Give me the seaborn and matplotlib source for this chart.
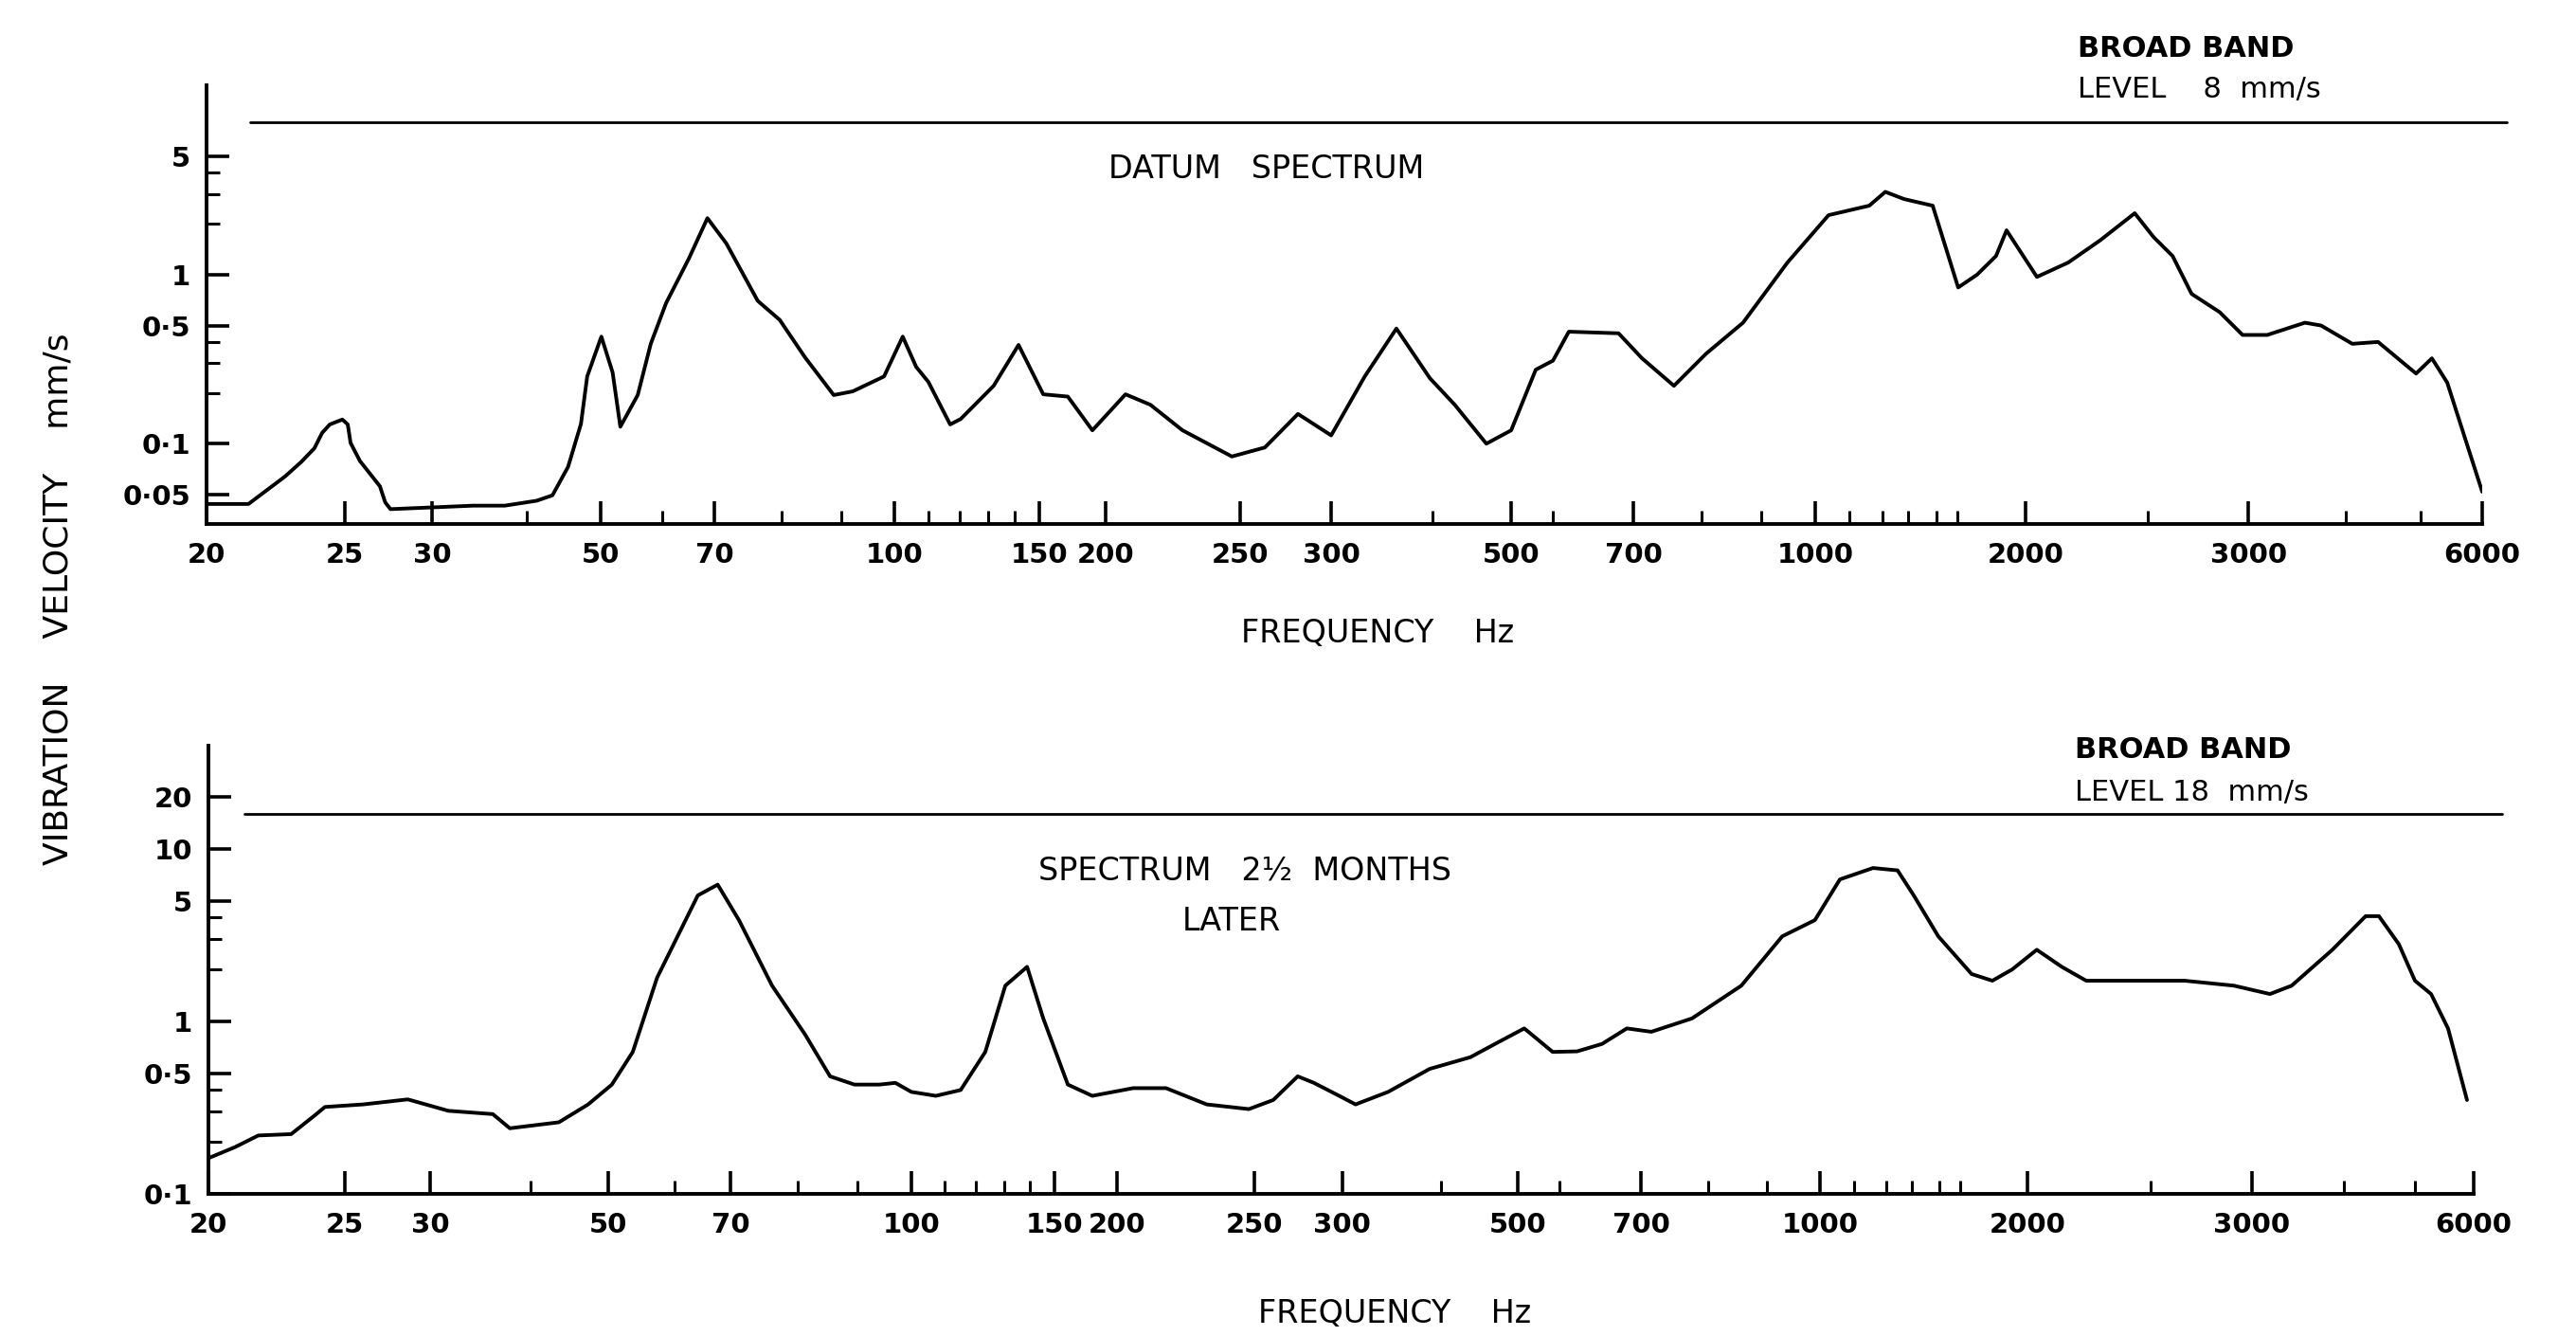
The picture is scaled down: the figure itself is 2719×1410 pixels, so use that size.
import numpy as np
import pandas as pd
import matplotlib
matplotlib.use("Agg")
import matplotlib.pyplot as plt
import seaborn as sns
from matplotlib.ticker import FixedLocator, FixedFormatter, NullFormatter

sns.set_style("white")
plt.rcParams["font.family"] = ["DejaVu Sans"]
plt.rcParams["text.color"] = "black"
plt.rcParams["xtick.color"] = "black"
plt.rcParams["ytick.color"] = "black"

# ---------------- data ----------------
TICK_HZ = [20, 25, 30, 50, 70, 100, 150, 200, 250, 300, 500, 700, 1000, 2000, 3000, 6000]
TICK_LABELS = ["20", "25", "30", "50", "70", "100", "150", "200", "250", "300",
               "500", "700", "1000", "2000", "3000", "6000"]
MINOR_HZ = [40, 60, 80, 90, 110, 120, 130, 140, 400, 560, 800, 900,
            1120, 1250, 1360, 1490, 1600, 2500, 4000, 5000]

# the analyser chart's (non-logarithmic) frequency scale, as fraction of axis length
SCALE_TOP = [0, .0608, .0991, .1732, .2231, .3022, .366, .3951, .4542, .4942,
             .5733, .627, .7069, .7993, .8972, 1.0]
SCALE_BOT = [0, .0602, .0979, .1765, .2304, .3103, .3735, .4011, .4617, .5006,
             .578, .6324, .7114, .803, .9021, 1.0]

TOP_Y_TICKS = [0.05, 0.1, 0.5, 1, 5]
TOP_Y_LABELS = ["0·05", "0·1", "0·5", "1", "5"]
BOT_Y_TICKS = [0.1, 0.5, 1, 5, 10, 20]
BOT_Y_LABELS = ["0·1", "0·5", "1", "5", "10", "20"]
Y_MINOR = [0.2, 0.3, 0.4, 2, 3, 4]

BROADBAND_DATUM = 8
BROADBAND_LATER = 16

DATUM_HZ = [20, 21.4, 22.7, 23.3, 23.8, 24.1, 24.4, 24.9, 25.15, 25.3, 25.8, 26.9, 27.2,
            27.5, 34.0, 37.4, 41.2, 43.2, 45.3,
            47.1, 48.0, 50.1, 51.8, 53.0, 55.8, 58.0, 60.7, 64.9, 68.6, 71.7, 76.3,
            79.7, 83.8, 88.7, 92.1, 98.0, 102.4, 106.3, 110, 116.9, 120.4, 132, 141.5,
            152.5, 169.7, 188.8, 206.7, 215.4, 227.2, 246.6, 262.7, 280.7, 300, 330,
            361, 397, 426, 466, 500, 535, 561, 586, 672, 712, 758, 807, 868, 947,
            1045, 1195, 1260, 1341, 1473, 1602, 1705, 1815, 1879, 2042, 2162, 2292,
            2440, 2525, 2614, 2706, 2848, 2969, 3174, 3549, 3723, 4083, 4407, 4932,
            5169, 5409, 5673, 6000]
DATUM_MMS = [0.044, 0.044, 0.064, 0.078, 0.094, 0.116, 0.13, 0.139, 0.13, 0.101, 0.079,
             0.056, 0.045, 0.041, 0.043, 0.043, 0.046,
             0.0495, 0.073, 0.131, 0.25, 0.43, 0.264, 0.126, 0.194, 0.39, 0.68, 1.24,
             2.16, 1.53, 0.70, 0.54, 0.324, 0.194, 0.204, 0.25, 0.43, 0.285, 0.232,
             0.13, 0.14, 0.22, 0.384, 0.196, 0.19, 0.12, 0.196, 0.17, 0.12, 0.084,
             0.095, 0.15, 0.112, 0.25, 0.48, 0.244, 0.17, 0.10, 0.12, 0.274, 0.31,
             0.46, 0.45, 0.32, 0.22, 0.34, 0.52, 1.18, 2.25, 2.56, 3.09, 2.8, 2.56,
             0.84, 1.0, 1.29, 1.83, 0.97, 1.18, 1.6, 2.31, 1.67, 1.29, 0.77, 0.60,
             0.44, 0.44, 0.52, 0.50, 0.39, 0.40, 0.26, 0.32, 0.23, 0.116, 0.052]

LATER_HZ = [20, 20.9, 21.7, 22.9, 23.8, 24.2, 26.0, 28.6, 31.6, 35.9, 37.7, 43.4, 47.2,
            50.5, 53.5, 57.2, 64.0, 67.6, 71.2, 76.0, 81.1, 85.2, 89.4, 93.9, 96.9,
            100, 107.2, 115, 123.3, 130.5, 138.8, 145.3, 159.5, 178.5, 205.3, 216.6,
            231.4, 247.8, 260, 273.5, 282.8, 298, 311.7, 342.7, 386.8, 435.7, 468,
            509, 550, 588, 629.5, 673.5, 714.6, 775, 855, 927.6, 990, 1069, 1194,
            1296, 1368, 1485, 1660, 1779, 1901, 2034, 2128, 2224, 2430, 2657, 2904,
            3174, 3397, 3858, 4280, 4462, 4749, 4994, 5252, 5538, 5876]
LATER_MMS = [0.161, 0.187, 0.218, 0.222, 0.285, 0.319, 0.33, 0.353, 0.303, 0.29, 0.24,
             0.26, 0.33, 0.43, 0.665, 1.79, 5.37, 6.2, 3.86, 1.61, 0.84, 0.48, 0.43,
             0.43, 0.44, 0.39, 0.37, 0.40, 0.665, 1.61, 2.07, 1.04, 0.43, 0.37, 0.41,
             0.41, 0.33, 0.31, 0.35, 0.48, 0.44, 0.37, 0.33, 0.39, 0.53, 0.62, 0.74,
             0.91, 0.665, 0.67, 0.74, 0.91, 0.87, 1.04, 1.61, 3.11, 3.86, 6.65, 7.74,
             7.5, 5.37, 3.11, 1.88, 1.72, 2.0, 2.6, 2.07, 1.72, 1.72, 1.72, 1.61,
             1.44, 1.61, 2.6, 4.07, 4.07, 2.8, 1.72, 1.44, 0.91, 0.35]

datum = pd.DataFrame({"freq": DATUM_HZ, "vel": DATUM_MMS})
later = pd.DataFrame({"freq": LATER_HZ, "vel": LATER_MMS})


# ---------------- scale ----------------
def make_scale(u):
    lf = np.log10(np.array(TICK_HZ, float))
    u = np.array(u, float)
    s0 = (u[1] - u[0]) / (lf[1] - lf[0])
    s1 = (u[-1] - u[-2]) / (lf[-1] - lf[-2])
    lfe = np.concatenate([[lf[0] - 5], lf, [lf[-1] + 5]])
    ue = np.concatenate([[u[0] - 5 * s0], u, [u[-1] + 5 * s1]])

    def fwd(x):
        x = np.asarray(x, float)
        with np.errstate(all="ignore"):
            l = np.log10(np.where(x > 0, x, 1e-5))
        return np.interp(l, lfe, ue)

    def inv(v):
        v = np.asarray(v, float)
        return 10 ** np.interp(v, ue, lfe)

    return fwd, inv


W, H = 2719, 1410
fig = plt.figure(figsize=(W / 100, H / 100), dpi=100)
ax1 = fig.add_axes([218 / W, 1 - 553 / H, 2402 / W, 463 / H])
ax2 = fig.add_axes([220 / W, 1 - 1260 / H, 2391 / W, 473 / H])

LW = 2.8
for ax, df, scale, ylim, yt, yl, bb, bbx in [
    (ax1, datum, SCALE_TOP, (0.0335, 13.2), TOP_Y_TICKS, TOP_Y_LABELS, BROADBAND_DATUM, (0.019, 1.011)),
    (ax2, later, SCALE_BOT, (0.1, 39.6), BOT_Y_TICKS, BOT_Y_LABELS, BROADBAND_LATER, (0.016, 1.0125)),
]:
    ax.set_xscale("function", functions=make_scale(scale))
    ax.set_yscale("log")
    sns.lineplot(data=df, x="freq", y="vel", ax=ax, color="black", linewidth=LW,
                 estimator=None, sort=False, legend=False,
                 solid_joinstyle="round", solid_capstyle="round")
    ax.set_xlim(20, 6000)
    ax.set_ylim(*ylim)
    ax.axhline(bb, xmin=bbx[0], xmax=bbx[1], color="black", lw=2.0, clip_on=False)

    ax.xaxis.set_major_locator(FixedLocator(TICK_HZ))
    ax.xaxis.set_major_formatter(FixedFormatter(TICK_LABELS))
    ax.xaxis.set_minor_locator(FixedLocator(MINOR_HZ))
    ax.xaxis.set_minor_formatter(NullFormatter())
    ax.yaxis.set_major_locator(FixedLocator(yt))
    ax.yaxis.set_major_formatter(FixedFormatter(yl))
    ax.yaxis.set_minor_locator(FixedLocator(Y_MINOR))
    ax.yaxis.set_minor_formatter(NullFormatter())

    ax.tick_params(axis="x", which="major", direction="in", length=17, width=2.6,
                   pad=14, labelsize=21, bottom=True)
    ax.tick_params(axis="x", which="minor", direction="in", length=10, width=2.2, bottom=True)
    ax.tick_params(axis="y", which="major", direction="in", length=17, width=2.6,
                   pad=12, labelsize=21, left=True)
    ax.tick_params(axis="y", which="minor", direction="in", length=10, width=2.2, left=True)
    for lab in ax.get_xticklabels() + ax.get_yticklabels():
        lab.set_fontweight("semibold")

    for side in ["top", "right"]:
        ax.spines[side].set_visible(False)
    for side in ["left", "bottom"]:
        ax.spines[side].set_linewidth(2.8)
        ax.spines[side].set_color("black")
    ax.set_xlabel("")
    ax.set_ylabel("")
    ax.patch.set_alpha(0)


def ft(x, y, s, **kw):
    fig.text(x / W, 1 - y / H, s, **kw)


ft(1337, 179, "DATUM   SPECTRUM", ha="center", va="center", fontsize=24)
ft(1314, 919, "SPECTRUM   2½  MONTHS", ha="center", va="center", fontsize=24)
ft(1300, 973, "LATER", ha="center", va="center", fontsize=24)
ft(1454, 668, "FREQUENCY    Hz", ha="center", va="center", fontsize=24)
ft(1472, 1387, "FREQUENCY    Hz", ha="center", va="center", fontsize=24)
ft(2193, 52, "BROAD BAND", ha="left", va="center", fontsize=22, fontweight="bold")
ft(2193, 95, "LEVEL    8  mm/s", ha="left", va="center", fontsize=22)
ft(2190, 792, "BROAD BAND", ha="left", va="center", fontsize=22, fontweight="bold")
ft(2190, 836, "LEVEL 18  mm/s", ha="left", va="center", fontsize=22)
ft(62, 632, "VIBRATION    VELOCITY    mm/s", ha="center", va="center", rotation=90, fontsize=26)

fig.savefig("out.png", dpi=100, facecolor="white")
